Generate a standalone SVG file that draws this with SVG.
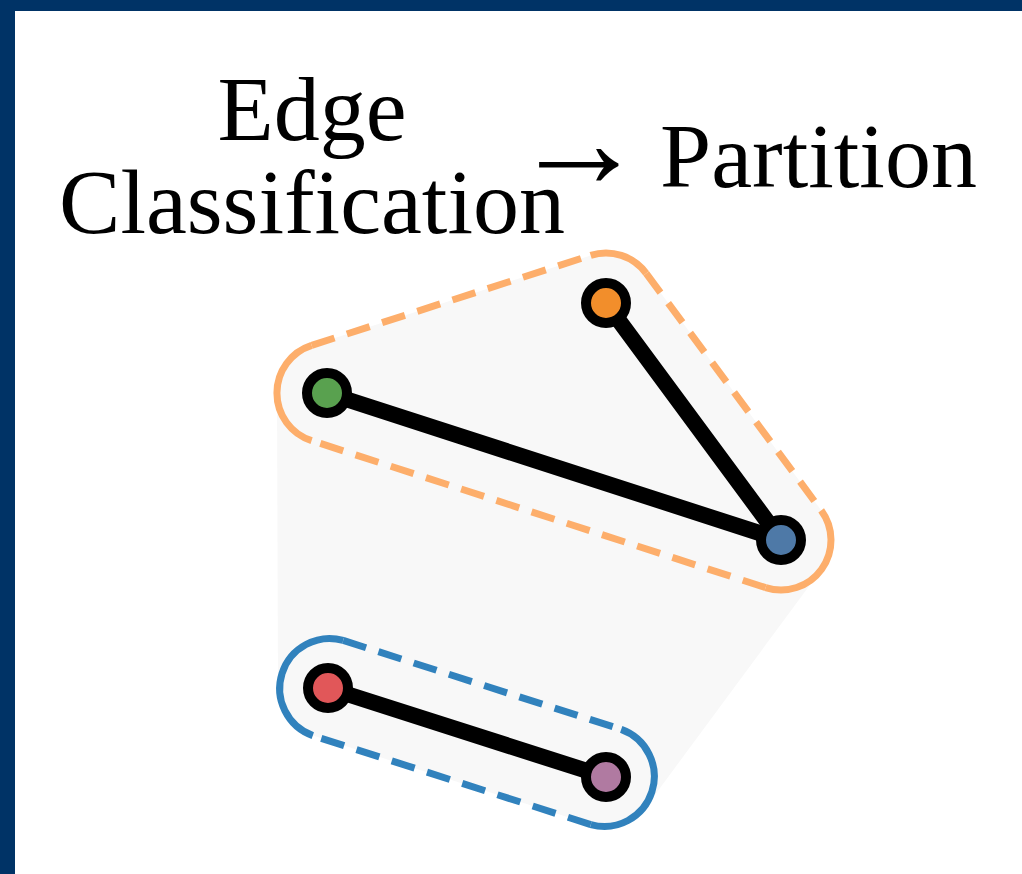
<svg xmlns="http://www.w3.org/2000/svg" width="1022" height="874" viewBox="0 0 1022 874">
<style>
.lbl{font-family:"Liberation Serif","Times New Roman",serif;font-size:92px;fill:#000}
.hullo{fill:none;stroke:#fdae6b;stroke-width:7}
.hullb{fill:none;stroke:#3182bd;stroke-width:7}
.dash{stroke-dasharray:24 13}
.edge{stroke:#000;stroke-width:16;stroke-linecap:round}
.node{stroke:#000;stroke-width:10}
</style>
<rect x="0" y="0" width="1022" height="874" fill="#fff"/>
<rect x="0" y="0" width="1022" height="11" fill="#003366"/>
<rect x="0" y="0" width="15" height="874" fill="#003366"/>
<g id="title">
<text class="lbl" x="312" y="140" text-anchor="middle">Edge</text>
<text class="lbl" x="312" y="233" text-anchor="middle">Classification</text>
<text class="lbl" y="187"><tspan x="512" style="font-size:134px">→</tspan><tspan x="660">Partition</tspan></text>
</g>
<g id="hull-all">
<path d="M590.65,255.4 A50 50 0 0 1 646.2,273.3 L821.2,510.3 A50 50 0 0 1 821.2,569.7 L646.2,806.7 A50 50 0 0 1 590.8,824.6 L312.8,735.6 A50 50 0 0 1 278,688.2 L277,393.2 A50 50 0 0 1 311.65,345.4 Z" fill="#f8f8f8"/>
</g>
<g id="hull-orange">
<path class="hullo" d="M590.65,255.4 A50 50 0 0 1 646.2,273.3"/>
<path class="hullo dash" d="M646.2,273.3 L821.2,510.3"/>
<path class="hullo" d="M821.2,510.3 A50 50 0 0 1 765.6,587.6"/>
<path class="hullo dash" d="M765.6,587.6 L311.6,440.6"/>
<path class="hullo" d="M311.6,440.6 A50 50 0 0 1 311.65,345.4"/>
<path class="hullo dash" d="M311.65,345.4 L590.65,255.4"/>
</g>
<g id="hull-blue">
<path class="hullb dash" d="M343.2,640.4 L621.2,729.4"/>
<path class="hullb" d="M621.2,729.4 A50 50 0 0 1 590.8,824.6"/>
<path class="hullb dash" d="M590.8,824.6 L312.8,735.6"/>
<path class="hullb" d="M312.8,735.6 A50 50 0 0 1 343.2,640.4"/>
</g>
<g id="connectors">
<line class="edge" x1="327" y1="393" x2="781" y2="540"/>
<line class="edge" x1="606" y1="303" x2="781" y2="540"/>
<line class="edge" x1="328" y1="688" x2="606" y2="777"/>
</g>
<g id="node-orange"><circle class="node" cx="606" cy="303" r="20" fill="#f28e2b"/></g>
<g id="node-green"><circle class="node" cx="327" cy="393" r="20" fill="#59a14f"/></g>
<g id="node-blue"><circle class="node" cx="781" cy="540" r="20" fill="#4e79a7"/></g>
<g id="node-red"><circle class="node" cx="328" cy="688" r="20" fill="#e15759"/></g>
<g id="node-purple"><circle class="node" cx="606" cy="777" r="20" fill="#b07aa1"/></g>
</svg>
